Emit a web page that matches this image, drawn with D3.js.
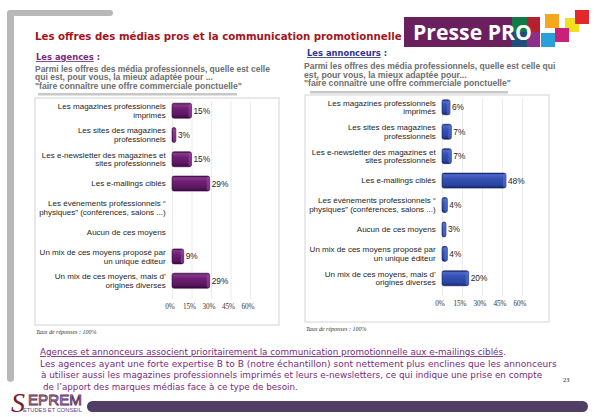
<!DOCTYPE html>
<html><head><meta charset="utf-8">
<script src="https://cdn.jsdelivr.net/npm/d3@7"></script>
<style>body{margin:0;background:#fff}svg{display:block}</style>
</head><body><svg id="c" width="595" height="417"></svg>
<script>
const categories = [
  ["Les magazines professionnels", "imprimés"],
  ["Les sites des magazines", "professionnels"],
  ["Les e-newsletter des magazines et", "sites professionnels"],
  ["Les e-mailings ciblés"],
  ["Les événements professionnels \u201c", "physiques\u201d (conférences, salons ...)"],
  ["Aucun de ces moyens"],
  ["Un mix de ces moyens proposé par", "un unique éditeur"],
  ["Un mix de ces moyens, mais d\u2019", "origines diverses"]
];
const agencesValues = [15, 3, 15, 29, 0, 0, 9, 29];
const annonceursValues = [6, 7, 7, 48, 4, 3, 4, 20];
const tickValues = [0, 15, 30, 45, 60];
const title = "Les offres des médias pros et la communication promotionnelle";
const leftHead = "Les agences";
const rightHead = "Les annonceurs";
const leftSub = ["Parmi les offres des média professionnels, quelle est celle", "qui est, pour vous, la mieux adaptée pour ...", "\"faire connaître une offre commerciale ponctuelle\""];
const rightSub = ["Parmi les offres des média professionnels, quelle est celle qui", "est, pour vous, la mieux adaptée pour...", "\"faire connaître une offre commerciale ponctuelle\""];
const note = "Taux de réponses : 100%";
const bodyLines = [
  "Agences et annonceurs associent prioritairement la communication promotionnelle aux e-mailings ciblés",
  "Les agences ayant une forte expertise B to B (notre échantillon) sont nettement plus enclines que les annonceurs",
  "à utiliser aussi les magazines professionnels imprimés et leurs e-newsletters, ce qui indique une prise en compte",
  "de l\u2019apport des marques médias face à ce type de besoin."
];

const svg = d3.select("#c");
const SANS = "'Liberation Sans', Arial, sans-serif";
const defs = svg.append("defs");

function fit(sel, w) {
  const n = sel.node();
  const cur = n.getComputedTextLength();
  const fs = parseFloat(sel.attr("font-size"));
  sel.attr("font-size", fs * w / cur);
  return sel;
}

function grad(id, stops) {
  const g = defs.append("linearGradient").attr("id", id).attr("x1", 0).attr("y1", 0).attr("x2", 0).attr("y2", 1);
  stops.forEach(s => g.append("stop").attr("offset", s[0]).attr("stop-color", s[1]));
}
grad("gP", [[0, "#3c0a42"], [0.12, "#86388c"], [0.35, "#6e2174"], [0.8, "#5a1560"], [1, "#36083c"]]);
grad("gB", [[0, "#16256c"], [0.12, "#4d69c8"], [0.35, "#3552b5"], [0.8, "#2a44a0"], [1, "#15246a"]]);

// gray frame
svg.append("path").attr("d", "M7,13 Q7,10 10,10 L110,10 Q113,10 113,13 Q113,16 110,16 L14,16 L14,380 Q10.5,384 7,380 Z").attr("fill", "#b8b8b8");

// title
fit(svg.append("text").attr("x", 35).attr("y", 40).attr("font-family", "'DejaVu Sans', Verdana, sans-serif")
  .attr("font-weight", "bold").attr("font-size", 11).attr("fill", "#a3151d").text(title), 367);

// logo
const logo = svg.append("g");
logo.append("rect").attr("x", 404).attr("y", 17).attr("width", 110).attr("height", 30).attr("fill", "#6a1f5f");
logo.append("rect").attr("x", 512).attr("y", 17).attr("width", 15).attr("height", 15).attr("fill", "#127a45");
logo.append("rect").attr("x", 512).attr("y", 32).attr("width", 15).attr("height", 15).attr("fill", "#1f4f78");
logo.append("rect").attr("x", 527).attr("y", 17).attr("width", 13).attr("height", 15).attr("fill", "#b3202f");
logo.append("rect").attr("x", 527).attr("y", 32).attr("width", 13).attr("height", 15).attr("fill", "#8d2f8a");
[[545, 14, "#f5a81d"], [565, 18, "#f1e020"], [575, 10, "#e2282b"], [541, 33, "#2aa0da"], [555, 28, "#c9207a"]].forEach(s =>
  logo.append("rect").attr("x", s[0]).attr("y", s[1]).attr("width", 14).attr("height", 14).attr("fill", s[2]));
fit(logo.append("text").attr("x", 413).attr("y", 40).attr("font-family", "'Open Sans', sans-serif").attr("font-weight", "bold")
  .attr("font-size", 24).attr("fill", "#fff").text("Presse PRO"), 119);

// headings
function heading(x, y, txt, col, w) {
  const t = svg.append("text").attr("x", x).attr("y", y).attr("font-family", "'DejaVu Sans', Verdana, sans-serif")
    .attr("font-weight", "bold").attr("font-size", 10).attr("fill", col);
  t.append("tspan").attr("text-decoration", "underline").text(txt);
  t.append("tspan").text(" :");
  const cur = t.node().getComputedTextLength();
  t.attr("font-size", 10 * w / cur);
}
heading(36, 60, leftHead, "#7a2a80", 64);
heading(307, 56, rightHead, "#2c3590", 80);

function sub(x, ys, lines, ws) {
  lines.forEach((l, i) => fit(svg.append("text").attr("x", x).attr("y", ys[i]).attr("font-family", SANS)
    .attr("font-weight", "bold").attr("font-size", 8.5).attr("fill", "#6e6e6e").text(l), ws[i]));
}
sub(35, [71.5, 80, 88.5], leftSub, [235, 178, 207]);
sub(304, [68.5, 77.5, 86], rightSub, [252, 163, 207]);
svg.append("rect").attr("x", 38).attr("y", 93).attr("width", 199).attr("height", 2.5).attr("fill", "#c8c8c8");
svg.append("rect").attr("x", 310).attr("y", 91).attr("width", 198).attr("height", 2.5).attr("fill", "#c8c8c8");

// reference label font size
const probe = svg.append("text").attr("font-family", SANS).attr("font-size", 8).text(categories[2][0]);
const catFs = 8 * 124 / probe.node().getComputedTextLength();
probe.remove();

function panel(o) {
  const g = svg.append("g");
  g.append("rect").attr("x", o.box[0]).attr("y", o.box[1]).attr("width", o.box[2] - o.box[0]).attr("height", o.box[3] - o.box[1])
    .attr("fill", "#fff").attr("stroke", "#d4d4d4").attr("stroke-width", 1);
  const x = d3.scaleLinear().domain([0, 60]).range(o.xr);
  const y = d3.scalePoint().domain(d3.range(categories.length)).range(o.yr);
  const ax = g.append("g").attr("transform", `translate(0,${o.axisY})`)
    .call(d3.axisBottom(x).tickValues(tickValues).tickFormat(d => d + "%").tickSize(-(o.axisY - o.box[1] - 3)).tickPadding(5));
  ax.select(".domain").remove();
  ax.selectAll(".tick line").attr("stroke", "#ececec");
  ax.selectAll(".tick text").attr("font-family", "'Liberation Serif', 'Times New Roman', serif").attr("font-size", 7.2)
    .attr("fill", "#333").attr("dx", -2.5);
  categories.forEach((c, i) => {
    const n = c.length;
    c.forEach((line, j) => {
      g.append("text").attr("x", o.labelX).attr("y", y(i) + (j - (n - 1) / 2) * 8.7 + 2.8)
        .attr("text-anchor", "end").attr("font-family", SANS).attr("font-size", catFs).attr("fill", "#1e1e1e").text(line);
    });
  });
  const data = o.values.map((v, i) => ({ v, i })).filter(d => d.v > 0);
  g.selectAll("rect.bar").data(data).join("rect").attr("class", "bar")
    .attr("x", x(0)).attr("y", d => y(d.i) - 7.5).attr("width", d => x(d.v) - x(0)).attr("height", 15)
    .attr("rx", 2).attr("fill", `url(#${o.grad})`).attr("stroke", o.edge).attr("stroke-width", 0.6);
  g.selectAll("rect.cap").data(data).join("rect").attr("class", "cap")
    .attr("x", d => x(d.v) - 3).attr("y", d => y(d.i) - 7).attr("width", 3).attr("height", 14).attr("rx", 1.5)
    .attr("fill", o.cap).attr("opacity", 0.55);
  g.selectAll("text.val").data(data).join("text").attr("class", "val")
    .attr("x", d => x(d.v) + 2).attr("y", d => y(d.i) + 3).attr("font-family", SANS).attr("font-size", catFs + 0.3)
    .attr("fill", "#1e1e1e").text(d => d.v + "%");
}
panel({ values: agencesValues, xr: [172, 250], yr: [110.7, 280.7], box: [35, 98, 279, 325], axisY: 299, labelX: 165.7, grad: "gP", edge: "#3a0a40", cap: "#9a4aa0" });
panel({ values: annonceursValues, xr: [442, 522], yr: [107.3, 278.3], box: [305, 95, 549, 322], axisY: 296, labelX: 435.7, grad: "gB", edge: "#16246a", cap: "#5a76d0" });

// notes
[[36, 333.5], [306, 331]].forEach(p => svg.append("text").attr("x", p[0]).attr("y", p[1])
  .attr("font-family", "'Liberation Serif', serif").attr("font-style", "italic").attr("font-size", 6).attr("fill", "#333").text(note));

// body text
const BF = "'DejaVu Sans', Tahoma, sans-serif";
const l1 = svg.append("text").attr("x", 40).attr("y", 355).attr("font-family", BF).attr("font-size", 9.5).attr("fill", "#7a2a80");
l1.append("tspan").attr("text-decoration", "underline").text(bodyLines[0]);
l1.append("tspan").text(".");
fit(l1, 467);
const starts = [40, 40, 41, 43];
const ends = [null, 557, 543, 298];
[1, 2, 3].forEach(i => fit(svg.append("text").attr("x", starts[i]).attr("y", 355 + i * 11.5).attr("font-family", BF)
  .attr("font-size", 9.5).attr("fill", "#7a2a80").text(bodyLines[i]), ends[i] - starts[i]));
svg.append("text").attr("x", 563).attr("y", 381.5).attr("font-family", "'Liberation Serif', serif").attr("font-size", 6.5)
  .attr("fill", "#222").text("23");

// bottom bar + logo
svg.append("rect").attr("x", 87).attr("y", 401).attr("width", 501).attr("height", 11).attr("rx", 5.5).attr("fill", "#513e66");
svg.append("text").attr("x", 11).attr("y", 412).attr("font-family", "'Liberation Serif', serif").attr("font-style", "italic")
  .attr("font-size", 28).attr("fill", "#7a1a2c").text("S");
fit(svg.append("text").attr("x", 28).attr("y", 404.5).attr("font-family", SANS).attr("font-size", 14)
  .attr("fill", "#fff").attr("stroke", "#5b2a5f").attr("stroke-width", 0.9).text("EPREM"), 54);
fit(svg.append("text").attr("x", 23).attr("y", 411.8).attr("font-family", SANS).attr("font-size", 5)
  .attr("fill", "#6b3a70").text("ETUDES ET CONSEIL"), 59);
</script></body></html>
